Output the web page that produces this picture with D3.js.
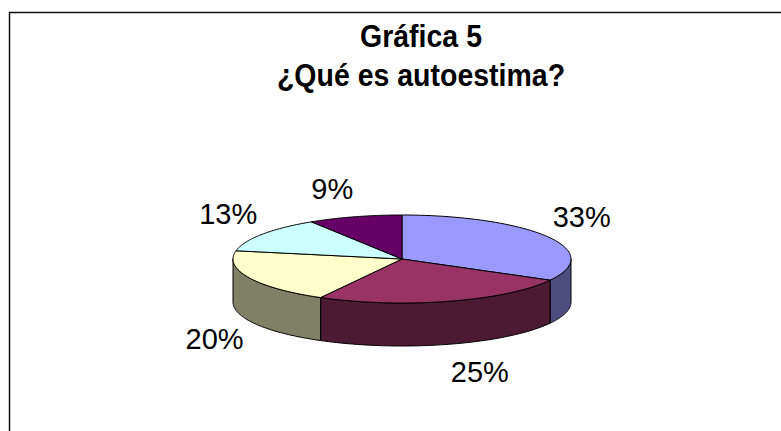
<!DOCTYPE html>
<html>
<head>
<meta charset="utf-8">
<script src="https://cdn.jsdelivr.net/npm/d3@7"></script>
<style>
  body { margin: 0; background: #fff; }
  svg { display: block; }
</style>
</head>
<body>
<svg id="chart"></svg>
<script>
// data
const categories = ['A', 'B', 'C', 'D', 'E'];
const values = [33, 25, 20, 13, 9];
const colors = ['#9999FF', '#993366', '#FFFFCC', '#CCFFFF', '#660066'];
const titleLines = ['Gráfica 5', '¿Qué es autoestima?'];

const width = 781, height = 431;
const fontFamily = '"Liberation Sans", Arial, sans-serif';
const svg = d3.select('#chart').attr('width', width).attr('height', height);

// marco del gráfico
svg.append('rect')
    .attr('x', 9.5).attr('y', 12.5)
    .attr('width', 900).attr('height', 600)
    .attr('fill', 'none')
    .attr('stroke', '#111')
    .attr('stroke-width', 1.5);

// titulo (algo estirado en vertical como el original)
svg.selectAll('.title')
    .data(titleLines)
    .enter().append('text')
    .attr('class', 'title')
    .attr('transform', (d, i) => `translate(421, ${47 + i * 39}) scale(1, 1.12)`)
    .attr('text-anchor', 'middle')
    .style('font-family', fontFamily)
    .style('font-weight', 'bold')
    .style('font-size', '28.5px')
    .text(d => d);

// geometria del pastel 3D
const cx = 402, cy = 259, rx = 169, ry = 44, depth = 43;

const pie = d3.pie().value(d => d).sort(null);
const arcs = pie(values);

const pt = (a, dy = 0) => [cx + rx * Math.sin(a), cy - ry * Math.cos(a) + dy];

function topPath(d) {
    const n = 60;
    const pts = d3.range(n + 1).map(i => pt(d.startAngle + (d.endAngle - d.startAngle) * i / n));
    return 'M' + cx + ',' + cy + 'L' + pts.map(p => p.join(',')).join('L') + 'Z';
}

// solo la parte frontal (de 90 a 270 grados) es visible
function sidePath(d) {
    const a0 = Math.max(d.startAngle, Math.PI / 2);
    const a1 = Math.min(d.endAngle, Math.PI * 1.5);
    if (a1 <= a0) return null;
    const n = 60;
    const upper = d3.range(n + 1).map(i => pt(a0 + (a1 - a0) * i / n));
    const lower = upper.slice().reverse().map(p => [p[0], p[1] + depth]);
    return 'M' + upper.concat(lower).map(p => p.join(',')).join('L') + 'Z';
}

const half = c => {
    const k = d3.rgb(c);
    return d3.rgb(k.r * 0.5, k.g * 0.5, k.b * 0.5).toString();
};

const g = svg.append('g');

g.selectAll('.side')
    .data(arcs.filter(d => sidePath(d)))
    .enter().append('path')
    .attr('class', 'side')
    .attr('d', sidePath)
    .attr('fill', d => half(colors[d.index]))
    .attr('stroke', '#000')
    .attr('stroke-width', 1);

g.selectAll('.top')
    .data(arcs)
    .enter().append('path')
    .attr('class', 'top')
    .attr('d', topPath)
    .attr('fill', d => colors[d.index])
    .attr('stroke', '#000')
    .attr('stroke-width', 1);

// etiquetas de porcentaje, colocadas junto al borde de cada porción
const total = d3.sum(values);
const labelSize = 29;
const offX = 6, offY = 18;
const mid = d => (d.startAngle + d.endAngle) / 2;

svg.selectAll('.label')
    .data(arcs)
    .enter().append('text')
    .attr('class', 'label')
    .attr('x', d => pt(mid(d))[0] + offX * Math.sin(mid(d)))
    .attr('y', d => {
        const m = mid(d);
        const lower = Math.cos(m) < 0;
        const e = pt(m, lower ? depth : 0);
        const ay = e[1] - offY * Math.cos(m);
        return lower ? ay + labelSize * 0.72 : ay;
    })
    .attr('text-anchor', d => Math.sin(mid(d)) >= 0 ? 'start' : 'end')
    .style('font-family', fontFamily)
    .style('font-size', labelSize + 'px')
    .style('fill', '#000')
    .text(d => Math.round(d.value / total * 100) + '%');
</script>
</body>
</html>
